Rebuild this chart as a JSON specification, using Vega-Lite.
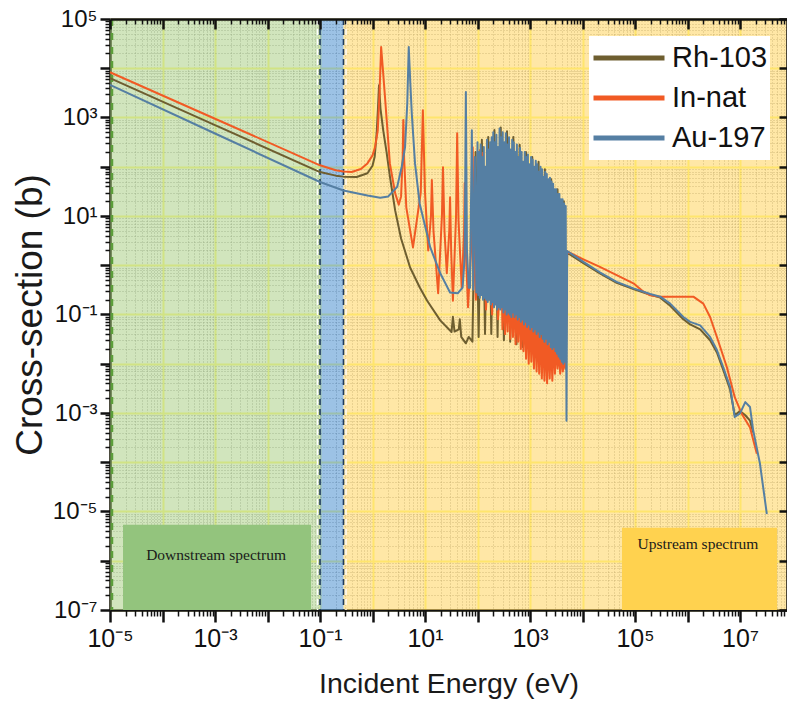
{
  "$schema": "https://vega.github.io/schema/vega-lite/v6.json",
  "width": 677,
  "height": 591,
  "autosize": {"type": "none"},
  "padding": {"left": 110, "top": 19, "right": 0, "bottom": 101},
  "background": "white",
  "config": {"view": {"stroke": null}, "font": "Liberation Sans"},
  "resolve": {"axis": {"x": "independent", "y": "independent"}},
  "datasets": {
    "xs": [
      {"s":"Rh-103","e":1e-5,"c":6300},{"s":"Rh-103","e":1e-3,"c":700},{"s":"Rh-103","e":0.1,"c":78},{"s":"Rh-103","e":0.2,"c":66},{"s":"Rh-103","e":0.28,"c":63},{"s":"Rh-103","e":0.5,"c":62},{"s":"Rh-103","e":0.8,"c":74},{"s":"Rh-103","e":1.0,"c":105},{"s":"Rh-103","e":1.1,"c":160},{"s":"Rh-103","e":1.2,"c":480},{"s":"Rh-103","e":1.27,"c":1500},{"s":"Rh-103","e":1.33,"c":4500},{"s":"Rh-103","e":1.42,"c":1500},{"s":"Rh-103","e":1.6,"c":550},{"s":"Rh-103","e":1.85,"c":200},{"s":"Rh-103","e":2.15,"c":62},{"s":"Rh-103","e":2.7,"c":13},{"s":"Rh-103","e":3.5,"c":3.5},{"s":"Rh-103","e":5.2,"c":0.9},{"s":"Rh-103","e":8,"c":0.35},{"s":"Rh-103","e":11,"c":0.19},{"s":"Rh-103","e":19.5,"c":0.076},{"s":"Rh-103","e":32,"c":0.044},{"s":"Rh-103","e":34,"c":0.09},{"s":"Rh-103","e":36.5,"c":0.045},{"s":"Rh-103","e":44,"c":0.05},{"s":"Rh-103","e":46,"c":0.08},{"s":"Rh-103","e":49,"c":0.035},{"s":"Rh-103","e":60,"c":0.026},{"s":"Rh-103","e":68,"c":0.035},{"s":"Rh-103","e":80,"c":0.028},{"s":"Rh-103","e":92,"c":200},{"s":"Rh-103","e":105,"c":0.035},{"s":"Rh-103","e":121,"c":355},{"s":"Rh-103","e":139,"c":0.04},{"s":"Rh-103","e":160,"c":400},{"s":"Rh-103","e":183,"c":0.04},{"s":"Rh-103","e":210,"c":560},{"s":"Rh-103","e":241,"c":0.035},{"s":"Rh-103","e":277,"c":630},{"s":"Rh-103","e":318,"c":0.03},{"s":"Rh-103","e":365,"c":525},{"s":"Rh-103","e":419,"c":0.028},{"s":"Rh-103","e":481,"c":400},{"s":"Rh-103","e":553,"c":0.025},{"s":"Rh-103","e":635,"c":280},{"s":"Rh-103","e":729,"c":0.022},{"s":"Rh-103","e":837,"c":200},{"s":"Rh-103","e":961,"c":0.02},{"s":"Rh-103","e":1104,"c":158},{"s":"Rh-103","e":1268,"c":0.018},{"s":"Rh-103","e":1456,"c":126},{"s":"Rh-103","e":1672,"c":0.015},{"s":"Rh-103","e":1920,"c":89},{"s":"Rh-103","e":2205,"c":0.012},{"s":"Rh-103","e":2533,"c":56},{"s":"Rh-103","e":2909,"c":0.01},{"s":"Rh-103","e":3341,"c":35},{"s":"Rh-103","e":3837,"c":0.0085},{"s":"Rh-103","e":4406,"c":20},{"s":"Rh-103","e":4800,"c":0.008},{"s":"Rh-103","e":5100,"c":1.8},{"s":"Rh-103","e":10400,"c":1.1},{"s":"Rh-103","e":21400,"c":0.68},{"s":"Rh-103","e":44700,"c":0.44},{"s":"Rh-103","e":93300,"c":0.33},{"s":"Rh-103","e":195000,"c":0.25},{"s":"Rh-103","e":302000,"c":0.22},{"s":"Rh-103","e":468000,"c":0.15},{"s":"Rh-103","e":832000,"c":0.08},{"s":"Rh-103","e":1120000,"c":0.063},{"s":"Rh-103","e":1740000,"c":0.05},{"s":"Rh-103","e":2690000,"c":0.03},{"s":"Rh-103","e":3630000,"c":0.017},{"s":"Rh-103","e":4790000,"c":0.0075},{"s":"Rh-103","e":6460000,"c":0.003},{"s":"Rh-103","e":7940000,"c":0.0009},{"s":"Rh-103","e":10000000,"c":0.0011},{"s":"Rh-103","e":12600000,"c":0.0009},{"s":"Rh-103","e":15500000,"c":0.0007},{"s":"Rh-103","e":17800000,"c":0.0004},

      {"s":"In-nat","e":1e-5,"c":8300},{"s":"In-nat","e":1e-3,"c":944},{"s":"In-nat","e":0.1,"c":107},{"s":"In-nat","e":0.2,"c":85},{"s":"In-nat","e":0.28,"c":80},{"s":"In-nat","e":0.4,"c":78},{"s":"In-nat","e":0.6,"c":90},{"s":"In-nat","e":0.8,"c":117},{"s":"In-nat","e":1.0,"c":170},{"s":"In-nat","e":1.12,"c":250},{"s":"In-nat","e":1.26,"c":550},{"s":"In-nat","e":1.36,"c":3000},{"s":"In-nat","e":1.46,"c":27000},{"s":"In-nat","e":1.55,"c":12000},{"s":"In-nat","e":1.73,"c":2600},{"s":"In-nat","e":2.14,"c":117},{"s":"In-nat","e":2.7,"c":29},{"s":"In-nat","e":3.16,"c":17},{"s":"In-nat","e":3.5,"c":25},{"s":"In-nat","e":3.75,"c":150},{"s":"In-nat","e":3.86,"c":890},{"s":"In-nat","e":4.0,"c":150},{"s":"In-nat","e":4.4,"c":15},{"s":"In-nat","e":5.9,"c":2.3},{"s":"In-nat","e":8.3,"c":30},{"s":"In-nat","e":9.1,"c":1400},{"s":"In-nat","e":10,"c":30},{"s":"In-nat","e":11.5,"c":2.0},{"s":"In-nat","e":13.0,"c":10},{"s":"In-nat","e":13.5,"c":54},{"s":"In-nat","e":14.5,"c":5},{"s":"In-nat","e":17.8,"c":0.27},{"s":"In-nat","e":21,"c":10},{"s":"In-nat","e":22,"c":98},{"s":"In-nat","e":23.5,"c":5},{"s":"In-nat","e":26,"c":0.69},{"s":"In-nat","e":29,"c":5},{"s":"In-nat","e":30,"c":24},{"s":"In-nat","e":31.5,"c":2},{"s":"In-nat","e":34,"c":0.19},{"s":"In-nat","e":39,"c":10},{"s":"In-nat","e":41,"c":480},{"s":"In-nat","e":43.5,"c":8},{"s":"In-nat","e":50,"c":0.35},{"s":"In-nat","e":55.5,"c":5},{"s":"In-nat","e":57,"c":47},{"s":"In-nat","e":59,"c":3},{"s":"In-nat","e":66,"c":0.14},{"s":"In-nat","e":79,"c":5},{"s":"In-nat","e":81,"c":250},{"s":"In-nat","e":84,"c":4},{"s":"In-nat","e":93,"c":0.2},{"s":"In-nat","e":109,"c":8},{"s":"In-nat","e":112,"c":220},{"s":"In-nat","e":115,"c":8},{"s":"In-nat","e":120,"c":0.25},{"s":"In-nat","e":124,"c":10},{"s":"In-nat","e":126,"c":190},{"s":"In-nat","e":130,"c":5},{"s":"In-nat","e":145,"c":0.126},{"s":"In-nat","e":163,"c":2},{"s":"In-nat","e":166,"c":16},{"s":"In-nat","e":170,"c":1},{"s":"In-nat","e":190,"c":0.1},{"s":"In-nat","e":210,"c":10},{"s":"In-nat","e":214,"c":190},{"s":"In-nat","e":220,"c":5},{"s":"In-nat","e":245,"c":0.08},{"s":"In-nat","e":277,"c":0.5},{"s":"In-nat","e":282,"c":2.0},{"s":"In-nat","e":290,"c":0.3},{"s":"In-nat","e":298.5,"c":0.05},{"s":"In-nat","e":316.2,"c":0.4},{"s":"In-nat","e":335,"c":0.04},{"s":"In-nat","e":354.8,"c":0.32},{"s":"In-nat","e":375.8,"c":0.045},{"s":"In-nat","e":398.1,"c":0.5},{"s":"In-nat","e":421.7,"c":0.032},{"s":"In-nat","e":446.7,"c":0.25},{"s":"In-nat","e":473.2,"c":0.035},{"s":"In-nat","e":501.2,"c":0.28},{"s":"In-nat","e":530.9,"c":0.025},{"s":"In-nat","e":562.3,"c":0.2},{"s":"In-nat","e":595.7,"c":0.028},{"s":"In-nat","e":631,"c":0.22},{"s":"In-nat","e":668.3,"c":0.02},{"s":"In-nat","e":707.9,"c":0.16},{"s":"In-nat","e":749.9,"c":0.018},{"s":"In-nat","e":794.3,"c":0.126},{"s":"In-nat","e":841.4,"c":0.0126},{"s":"In-nat","e":891.3,"c":0.14},{"s":"In-nat","e":944.1,"c":0.01},{"s":"In-nat","e":1000,"c":0.1},{"s":"In-nat","e":1059,"c":0.011},{"s":"In-nat","e":1122,"c":0.079},{"s":"In-nat","e":1189,"c":0.008},{"s":"In-nat","e":1259,"c":0.089},{"s":"In-nat","e":1334,"c":0.007},{"s":"In-nat","e":1413,"c":0.063},{"s":"In-nat","e":1496,"c":0.0063},{"s":"In-nat","e":1585,"c":0.056},{"s":"In-nat","e":1679,"c":0.005},{"s":"In-nat","e":1778,"c":0.05},{"s":"In-nat","e":1884,"c":0.0045},{"s":"In-nat","e":1995,"c":0.045},{"s":"In-nat","e":2113,"c":0.004},{"s":"In-nat","e":2239,"c":0.04},{"s":"In-nat","e":2371,"c":0.005},{"s":"In-nat","e":2512,"c":0.032},{"s":"In-nat","e":2661,"c":0.0045},{"s":"In-nat","e":2818,"c":0.035},{"s":"In-nat","e":2985,"c":0.0063},{"s":"In-nat","e":3162,"c":0.025},{"s":"In-nat","e":3350,"c":0.008},{"s":"In-nat","e":3548,"c":0.022},{"s":"In-nat","e":3758,"c":0.0063},{"s":"In-nat","e":3981,"c":0.016},{"s":"In-nat","e":4217,"c":0.007},{"s":"In-nat","e":4467,"c":0.0126},{"s":"In-nat","e":4732,"c":0.008},{"s":"In-nat","e":5100,"c":1.9},{"s":"In-nat","e":10400,"c":1.32},{"s":"In-nat","e":21400,"c":0.93},{"s":"In-nat","e":44700,"c":0.63},{"s":"In-nat","e":93300,"c":0.43},{"s":"In-nat","e":145000,"c":0.29},{"s":"In-nat","e":195000,"c":0.245},{"s":"In-nat","e":302000,"c":0.23},{"s":"In-nat","e":1290000,"c":0.23},{"s":"In-nat","e":2000000,"c":0.166},{"s":"In-nat","e":2690000,"c":0.089},{"s":"In-nat","e":3630000,"c":0.035},{"s":"In-nat","e":5620000,"c":0.0085},{"s":"In-nat","e":7940000,"c":0.0021},{"s":"In-nat","e":10700000,"c":0.00098},{"s":"In-nat","e":15500000,"c":0.00051},{"s":"In-nat","e":20900000,"c":0.000148},

      {"s":"Au-197","e":1e-5,"c":4600},{"s":"Au-197","e":1e-3,"c":473},{"s":"Au-197","e":0.1,"c":49},{"s":"Au-197","e":0.28,"c":33},{"s":"Au-197","e":0.8,"c":26},{"s":"Au-197","e":1.4,"c":23.5},{"s":"Au-197","e":2,"c":25},{"s":"Au-197","e":2.95,"c":39},{"s":"Au-197","e":3.6,"c":100},{"s":"Au-197","e":4.17,"c":250},{"s":"Au-197","e":4.6,"c":2000},{"s":"Au-197","e":4.9,"c":27000},{"s":"Au-197","e":5.25,"c":5000},{"s":"Au-197","e":5.6,"c":1200},{"s":"Au-197","e":6.45,"c":117},{"s":"Au-197","e":7.9,"c":18},{"s":"Au-197","e":12.6,"c":2.3},{"s":"Au-197","e":19.5,"c":0.69},{"s":"Au-197","e":30,"c":0.28},{"s":"Au-197","e":42,"c":0.27},{"s":"Au-197","e":52,"c":0.35},{"s":"Au-197","e":57,"c":1.5},{"s":"Au-197","e":60,"c":3300},{"s":"Au-197","e":63,"c":2},{"s":"Au-197","e":68,"c":0.35},{"s":"Au-197","e":72,"c":0.35},{"s":"Au-197","e":78,"c":550},{"s":"Au-197","e":83,"c":0.32},{"s":"Au-197","e":89,"c":158},{"s":"Au-197","e":95,"c":0.28},
      {"s":"Au-197","e":100,"c":316},{"s":"Au-197","e":103.5,"c":0.25},{"s":"Au-197","e":107.2,"c":200},{"s":"Au-197","e":110.9,"c":0.22},{"s":"Au-197","e":114.8,"c":282},{"s":"Au-197","e":118.9,"c":0.25},{"s":"Au-197","e":123,"c":158},{"s":"Au-197","e":127.4,"c":0.2},{"s":"Au-197","e":131.8,"c":251},{"s":"Au-197","e":136.5,"c":0.22},{"s":"Au-197","e":141.3,"c":100},{"s":"Au-197","e":146.2,"c":0.2},{"s":"Au-197","e":151.4,"c":355},{"s":"Au-197","e":156.7,"c":0.18},{"s":"Au-197","e":162.2,"c":224},{"s":"Au-197","e":167.9,"c":0.2},{"s":"Au-197","e":173.8,"c":316},{"s":"Au-197","e":179.9,"c":0.16},{"s":"Au-197","e":186.2,"c":398},{"s":"Au-197","e":192.8,"c":0.18},{"s":"Au-197","e":199.5,"c":500},{"s":"Au-197","e":206.5,"c":0.14},{"s":"Au-197","e":213.8,"c":316},{"s":"Au-197","e":221.3,"c":0.16},{"s":"Au-197","e":229.1,"c":447},{"s":"Au-197","e":237.1,"c":0.126},{"s":"Au-197","e":245.5,"c":251},{"s":"Au-197","e":254.1,"c":0.14},{"s":"Au-197","e":263,"c":600},{"s":"Au-197","e":272.3,"c":0.126},{"s":"Au-197","e":281.8,"c":398},{"s":"Au-197","e":291.7,"c":0.14},{"s":"Au-197","e":302,"c":500},{"s":"Au-197","e":312.6,"c":0.11},{"s":"Au-197","e":323.6,"c":316},{"s":"Au-197","e":335,"c":0.126},{"s":"Au-197","e":346.7,"c":480},{"s":"Au-197","e":358.9,"c":0.1},{"s":"Au-197","e":371.5,"c":282},{"s":"Au-197","e":384.6,"c":0.11},{"s":"Au-197","e":398.1,"c":398},{"s":"Au-197","e":412.1,"c":0.1},{"s":"Au-197","e":426.6,"c":224},{"s":"Au-197","e":441.6,"c":0.089},{"s":"Au-197","e":457.1,"c":355},{"s":"Au-197","e":473.2,"c":0.11},{"s":"Au-197","e":489.8,"c":316},{"s":"Au-197","e":507,"c":0.089},{"s":"Au-197","e":524.8,"c":200},{"s":"Au-197","e":543.3,"c":0.1},{"s":"Au-197","e":562.3,"c":282},{"s":"Au-197","e":582.1,"c":0.079},{"s":"Au-197","e":602.6,"c":158},{"s":"Au-197","e":623.7,"c":0.089},{"s":"Au-197","e":645.7,"c":240},{"s":"Au-197","e":668.3,"c":0.071},{"s":"Au-197","e":691.8,"c":200},{"s":"Au-197","e":716.1,"c":0.079},{"s":"Au-197","e":741.3,"c":126},{"s":"Au-197","e":767.4,"c":0.063},{"s":"Au-197","e":794.3,"c":200},{"s":"Au-197","e":822.2,"c":0.071},{"s":"Au-197","e":851.1,"c":158},{"s":"Au-197","e":881,"c":0.056},{"s":"Au-197","e":912,"c":178},{"s":"Au-197","e":944.1,"c":0.063},{"s":"Au-197","e":977.2,"c":112},{"s":"Au-197","e":1012,"c":0.05},{"s":"Au-197","e":1047,"c":158},{"s":"Au-197","e":1084,"c":0.056},{"s":"Au-197","e":1122,"c":141},{"s":"Au-197","e":1161,"c":0.045},{"s":"Au-197","e":1202,"c":100},{"s":"Au-197","e":1245,"c":0.05},{"s":"Au-197","e":1288,"c":132},{"s":"Au-197","e":1334,"c":0.04},{"s":"Au-197","e":1380,"c":112},{"s":"Au-197","e":1429,"c":0.045},{"s":"Au-197","e":1479,"c":79},{"s":"Au-197","e":1531,"c":0.035},{"s":"Au-197","e":1585,"c":100},{"s":"Au-197","e":1641,"c":0.04},{"s":"Au-197","e":1698,"c":89},{"s":"Au-197","e":1758,"c":0.032},{"s":"Au-197","e":1820,"c":63},{"s":"Au-197","e":1884,"c":0.028},{"s":"Au-197","e":1950,"c":79},{"s":"Au-197","e":2018,"c":0.032},{"s":"Au-197","e":2089,"c":71},{"s":"Au-197","e":2163,"c":0.025},{"s":"Au-197","e":2239,"c":56},{"s":"Au-197","e":2317,"c":0.028},{"s":"Au-197","e":2399,"c":60},{"s":"Au-197","e":2483,"c":0.022},{"s":"Au-197","e":2570,"c":50},{"s":"Au-197","e":2661,"c":0.02},{"s":"Au-197","e":2754,"c":45},{"s":"Au-197","e":2851,"c":0.022},{"s":"Au-197","e":2951,"c":35},{"s":"Au-197","e":3055,"c":0.018},{"s":"Au-197","e":3162,"c":35},{"s":"Au-197","e":3273,"c":0.016},{"s":"Au-197","e":3388,"c":28},{"s":"Au-197","e":3508,"c":0.014},{"s":"Au-197","e":3631,"c":28},{"s":"Au-197","e":3758,"c":0.0126},{"s":"Au-197","e":3890,"c":22},{"s":"Au-197","e":4027,"c":0.011},{"s":"Au-197","e":4169,"c":22},{"s":"Au-197","e":4315,"c":0.01},{"s":"Au-197","e":4467,"c":18},{"s":"Au-197","e":4624,"c":0.011},{"s":"Au-197","e":4786,"c":16},{"s":"Au-197","e":4955,"c":0.0007},
      {"s":"Au-197","e":5100,"c":1.95},{"s":"Au-197","e":10400,"c":1.17},{"s":"Au-197","e":21400,"c":0.72},{"s":"Au-197","e":44700,"c":0.46},{"s":"Au-197","e":93300,"c":0.34},{"s":"Au-197","e":195000,"c":0.26},{"s":"Au-197","e":302000,"c":0.23},{"s":"Au-197","e":468000,"c":0.166},{"s":"Au-197","e":832000,"c":0.089},{"s":"Au-197","e":1120000,"c":0.071},{"s":"Au-197","e":1740000,"c":0.06},{"s":"Au-197","e":2690000,"c":0.035},{"s":"Au-197","e":3630000,"c":0.019},{"s":"Au-197","e":4790000,"c":0.0085},{"s":"Au-197","e":6460000,"c":0.0034},{"s":"Au-197","e":7940000,"c":0.00083},{"s":"Au-197","e":10000000,"c":0.00098},{"s":"Au-197","e":12600000,"c":0.00166},{"s":"Au-197","e":15500000,"c":0.00132},{"s":"Au-197","e":17800000,"c":0.00045},{"s":"Au-197","e":24000000,"c":0.000093},{"s":"Au-197","e":32400000,"c":0.0000089}
    ]
  },
  "layer": [
    {
      "data": {"values": [
        {"zone": "down", "lo": 1e-5, "hi": 0.1},
        {"zone": "cd", "lo": 0.1, "hi": 0.28},
        {"zone": "up", "lo": 0.28, "hi": 7.85e7}
      ]},
      "mark": {"type": "rect", "fillOpacity": 0.5},
      "encoding": {
        "x": {"field": "lo", "type": "quantitative", "scale": {"type": "log", "domain": [1e-5, 7.85e7], "nice": false}, "axis": null},
        "x2": {"field": "hi"},
        "fill": {"field": "zone", "type": "nominal", "scale": {"domain": ["down", "cd", "up", "downBox", "upBox"], "range": ["#a4cc7c", "#3a86cc", "#ffcf4e", "#93c47d", "#ffd24f"]}, "legend": null}
      }
    },
    {
      "data": {"values": [{"e": 1e-5}]},
      "mark": {"type": "rule", "stroke": "#5c9e3a", "strokeWidth": 2.5, "strokeDash": [7, 7], "xOffset": 2},
      "encoding": {"x": {"field": "e", "type": "quantitative", "scale": {"type": "log", "domain": [1e-5, 7.85e7], "nice": false}, "axis": null}}
    },
    {
      "data": {"values": [{"e": 0.1}]},
      "mark": {"type": "rule", "stroke": "white", "strokeWidth": 1.4, "strokeDash": [6, 4], "xOffset": -2.5},
      "encoding": {"x": {"field": "e", "type": "quantitative", "scale": {"type": "log", "domain": [1e-5, 7.85e7], "nice": false}, "axis": null}}
    },
    {
      "data": {"values": [{"e": 0.28}]},
      "mark": {"type": "rule", "stroke": "white", "strokeWidth": 1.4, "strokeDash": [6, 4], "xOffset": 2.5},
      "encoding": {"x": {"field": "e", "type": "quantitative", "scale": {"type": "log", "domain": [1e-5, 7.85e7], "nice": false}, "axis": null}}
    },
    {
      "data": {"values": [{"e": 0.1}, {"e": 0.28}]},
      "mark": {"type": "rule", "stroke": "#1d3a5f", "strokeWidth": 1.6, "strokeDash": [6, 4]},
      "encoding": {"x": {"field": "e", "type": "quantitative", "scale": {"type": "log", "domain": [1e-5, 7.85e7], "nice": false}, "axis": null}}
    },
    {
      "data": {"values": [
        {"zone": "downBox", "x1": 1.77e-5, "x2": 0.0675, "y1": 1e-7, "y2": 5.4e-6},
        {"zone": "upBox", "x1": 5.65e4, "x2": 5.07e7, "y1": 1e-7, "y2": 4.7e-6}
      ]},
      "mark": {"type": "rect", "fillOpacity": 1},
      "encoding": {
        "x": {"field": "x1", "type": "quantitative", "scale": {"type": "log", "domain": [1e-5, 7.85e7], "nice": false}, "axis": null},
        "x2": {"field": "x2"},
        "y": {"field": "y1", "type": "quantitative", "scale": {"type": "log", "domain": [1e-7, 1e5], "nice": false}, "axis": null},
        "y2": {"field": "y2"},
        "fill": {"field": "zone", "type": "nominal", "scale": {"domain": ["down", "cd", "up", "downBox", "upBox"], "range": ["#a4cc7c", "#3a86cc", "#ffcf4e", "#93c47d", "#ffd24f"]}, "legend": null}
      }
    },
    {
      "data": {"values": [
        {"t": "Downstream spectrum", "x": 1.05e-3, "y": 1.3e-6},
        {"t": "Upstream spectrum", "x": 1.58e6, "y": 2.24e-6}
      ]},
      "mark": {"type": "text", "font": "Liberation Serif", "fontSize": 15.5, "color": "#1a1a1a"},
      "encoding": {
        "x": {"field": "x", "type": "quantitative", "scale": {"type": "log", "domain": [1e-5, 7.85e7], "nice": false}, "axis": null},
        "y": {"field": "y", "type": "quantitative", "scale": {"type": "log", "domain": [1e-7, 1e5], "nice": false}, "axis": null},
        "text": {"field": "t"}
      }
    },
    {
      "data": {"name": "xs"},
      "mark": {"type": "line", "strokeWidth": 2, "strokeJoin": "round"},
      "encoding": {
        "x": {
          "field": "e", "type": "quantitative",
          "scale": {"type": "log", "domain": [1e-5, 7.85e7], "nice": false},
          "axis": {
            "orient": "bottom",
            "title": "Incident Energy (eV)",
            "titleFont": "Liberation Sans", "titleFontSize": 28.5, "titleFontWeight": "normal", "titleColor": "#1a1a1a", "titlePadding": 18,
            "values": [1e-5,2e-5,3e-5,4e-5,5e-5,6e-5,7e-5,8e-5,9e-5,1e-4,2e-4,3e-4,4e-4,5e-4,6e-4,7e-4,8e-4,9e-4,0.001,0.002,0.003,0.004,0.005,0.006,0.007,0.008,0.009,0.01,0.02,0.03,0.04,0.05,0.06,0.07,0.08,0.09,0.1,0.2,0.3,0.4,0.5,0.6,0.7,0.8,0.9,1,2,3,4,5,6,7,8,9,10,20,30,40,50,60,70,80,90,100,200,300,400,500,600,700,800,900,1000,2000,3000,4000,5000,6000,7000,8000,9000,1e4,2e4,3e4,4e4,5e4,6e4,7e4,8e4,9e4,1e5,2e5,3e5,4e5,5e5,6e5,7e5,8e5,9e5,1e6,2e6,3e6,4e6,5e6,6e6,7e6,8e6,9e6,1e7,2e7,3e7,4e7,5e7,6e7,7e7],
            "labelExpr": "abs(log(datum.value)/LN10-round(log(datum.value)/LN10))<0.001 && abs(round(log(datum.value)/LN10))%2==1 ? '10'+(round(log(datum.value)/LN10)<0?'⁻':'')+['⁰','¹','²','³','⁴','⁵','⁶','⁷','⁸','⁹'][abs(round(log(datum.value)/LN10))] : ''",
            "labelFont": "Liberation Sans", "labelFontSize": 25, "labelColor": "#111", "labelPadding": 4,
            "labelFlush": false, "labelOverlap": false, "labelBound": false,
            "domainColor": "#111", "domainWidth": 2.5,
            "tickColor": "#111",
            "tickSize": {"condition": {"test": "abs(log(datum.value)/LN10-round(log(datum.value)/LN10))<0.001", "value": 12}, "value": 6},
            "tickWidth": {"condition": {"test": "abs(log(datum.value)/LN10-round(log(datum.value)/LN10))<0.001", "value": 2.5}, "value": 1.5},
            "grid": true,
            "gridColor": {"condition": {"test": "abs(log(datum.value)/LN10-round(log(datum.value)/LN10))<0.001", "value": "#fffa8c"}, "value": "#6a6a6a"},
            "gridDash": {"condition": {"test": "abs(log(datum.value)/LN10-round(log(datum.value)/LN10))<0.001", "value": []}, "value": [1, 2]},
            "gridWidth": {"condition": {"test": "abs(log(datum.value)/LN10-round(log(datum.value)/LN10))<0.001", "value": 2}, "value": 1},
            "gridOpacity": {"condition": {"test": "abs(log(datum.value)/LN10-round(log(datum.value)/LN10))<0.001", "value": 1}, "value": 0.6}
          }
        },
        "y": {
          "field": "c", "type": "quantitative",
          "scale": {"type": "log", "domain": [1e-7, 1e5], "nice": false},
          "axis": {
            "orient": "left",
            "title": "Cross-section (b)",
            "titleFont": "Liberation Sans", "titleFontSize": 37, "titleFontWeight": "normal", "titleColor": "#1a1a1a", "titlePadding": 3,
            "values": [1e-7,2e-7,3e-7,4e-7,5e-7,6e-7,7e-7,8e-7,9e-7,1e-6,2e-6,3e-6,4e-6,5e-6,6e-6,7e-6,8e-6,9e-6,1e-5,2e-5,3e-5,4e-5,5e-5,6e-5,7e-5,8e-5,9e-5,1e-4,2e-4,3e-4,4e-4,5e-4,6e-4,7e-4,8e-4,9e-4,0.001,0.002,0.003,0.004,0.005,0.006,0.007,0.008,0.009,0.01,0.02,0.03,0.04,0.05,0.06,0.07,0.08,0.09,0.1,0.2,0.3,0.4,0.5,0.6,0.7,0.8,0.9,1,2,3,4,5,6,7,8,9,10,20,30,40,50,60,70,80,90,100,200,300,400,500,600,700,800,900,1000,2000,3000,4000,5000,6000,7000,8000,9000,1e4,2e4,3e4,4e4,5e4,6e4,7e4,8e4,9e4,1e5],
            "labelExpr": "abs(log(datum.value)/LN10-round(log(datum.value)/LN10))<0.001 && abs(round(log(datum.value)/LN10))%2==1 ? '10'+(round(log(datum.value)/LN10)<0?'⁻':'')+['⁰','¹','²','³','⁴','⁵','⁶','⁷','⁸','⁹'][abs(round(log(datum.value)/LN10))] : ''",
            "labelFont": "Liberation Sans", "labelFontSize": 24, "labelColor": "#111", "labelPadding": 3,
            "labelFlush": false, "labelOverlap": false, "labelBound": false,
            "domainColor": "#111", "domainWidth": 2.5,
            "tickColor": "#111",
            "tickSize": {"condition": {"test": "abs(log(datum.value)/LN10-round(log(datum.value)/LN10))<0.001", "value": 10}, "value": 5},
            "tickWidth": {"condition": {"test": "abs(log(datum.value)/LN10-round(log(datum.value)/LN10))<0.001", "value": 2.5}, "value": 1.5},
            "grid": true,
            "gridColor": {"condition": {"test": "abs(log(datum.value)/LN10-round(log(datum.value)/LN10))<0.001", "value": "#fffa8c"}, "value": "#6a6a6a"},
            "gridDash": {"condition": {"test": "abs(log(datum.value)/LN10-round(log(datum.value)/LN10))<0.001", "value": []}, "value": [1, 2]},
            "gridWidth": {"condition": {"test": "abs(log(datum.value)/LN10-round(log(datum.value)/LN10))<0.001", "value": 2}, "value": 1},
            "gridOpacity": {"condition": {"test": "abs(log(datum.value)/LN10-round(log(datum.value)/LN10))<0.001", "value": 1}, "value": 0.6}
          }
        },
        "color": {
          "field": "s", "type": "nominal",
          "scale": {"domain": ["Rh-103", "In-nat", "Au-197"], "range": ["#6e5e30", "#f15a24", "#557fa3"]},
          "legend": {
            "title": null, "orient": "none", "legendX": 479, "legendY": 17,
            "symbolType": "stroke", "symbolSize": 5041, "symbolStrokeWidth": 5,
            "labelFont": "Liberation Sans", "labelFontSize": 29, "labelColor": "#111", "labelOffset": 5,
            "clipHeight": 40, "rowPadding": 0, "padding": 2, "fillColor": "white"
          }
        }
      }
    },
    {
      "data": {"name": "xs"},
      "mark": {"type": "point", "opacity": 0},
      "encoding": {
        "x": {
          "field": "e", "type": "quantitative",
          "scale": {"type": "log", "domain": [1e-5, 7.85e7], "nice": false},
          "axis": {
            "orient": "top", "title": null, "labels": false, "grid": false, "zindex": 1,
            "values": [1e-5,2e-5,3e-5,4e-5,5e-5,6e-5,7e-5,8e-5,9e-5,1e-4,2e-4,3e-4,4e-4,5e-4,6e-4,7e-4,8e-4,9e-4,0.001,0.002,0.003,0.004,0.005,0.006,0.007,0.008,0.009,0.01,0.02,0.03,0.04,0.05,0.06,0.07,0.08,0.09,0.1,0.2,0.3,0.4,0.5,0.6,0.7,0.8,0.9,1,2,3,4,5,6,7,8,9,10,20,30,40,50,60,70,80,90,100,200,300,400,500,600,700,800,900,1000,2000,3000,4000,5000,6000,7000,8000,9000,1e4,2e4,3e4,4e4,5e4,6e4,7e4,8e4,9e4,1e5,2e5,3e5,4e5,5e5,6e5,7e5,8e5,9e5,1e6,2e6,3e6,4e6,5e6,6e6,7e6,8e6,9e6,1e7,2e7,3e7,4e7,5e7,6e7,7e7],
            "domainColor": "#111", "domainWidth": 2.5, "tickColor": "#111",
            "tickSize": {"condition": {"test": "abs(log(datum.value)/LN10-round(log(datum.value)/LN10))<0.001", "value": -10}, "value": -5},
            "tickWidth": {"condition": {"test": "abs(log(datum.value)/LN10-round(log(datum.value)/LN10))<0.001", "value": 2.5}, "value": 1.5}
          }
        },
        "y": {
          "field": "c", "type": "quantitative",
          "scale": {"type": "log", "domain": [1e-7, 1e5], "nice": false},
          "axis": {
            "orient": "right", "title": null, "labels": false, "grid": false, "zindex": 1,
            "values": [1e-7,1e-6,1e-5,1e-4,0.001,0.01,0.1,1,10,100,1000,1e4,1e5],
            "domainColor": "#111", "domainWidth": 2.5, "tickColor": "#111",
            "tickSize": -8, "tickWidth": 2.5
          }
        }
      }
    }
  ]
}
